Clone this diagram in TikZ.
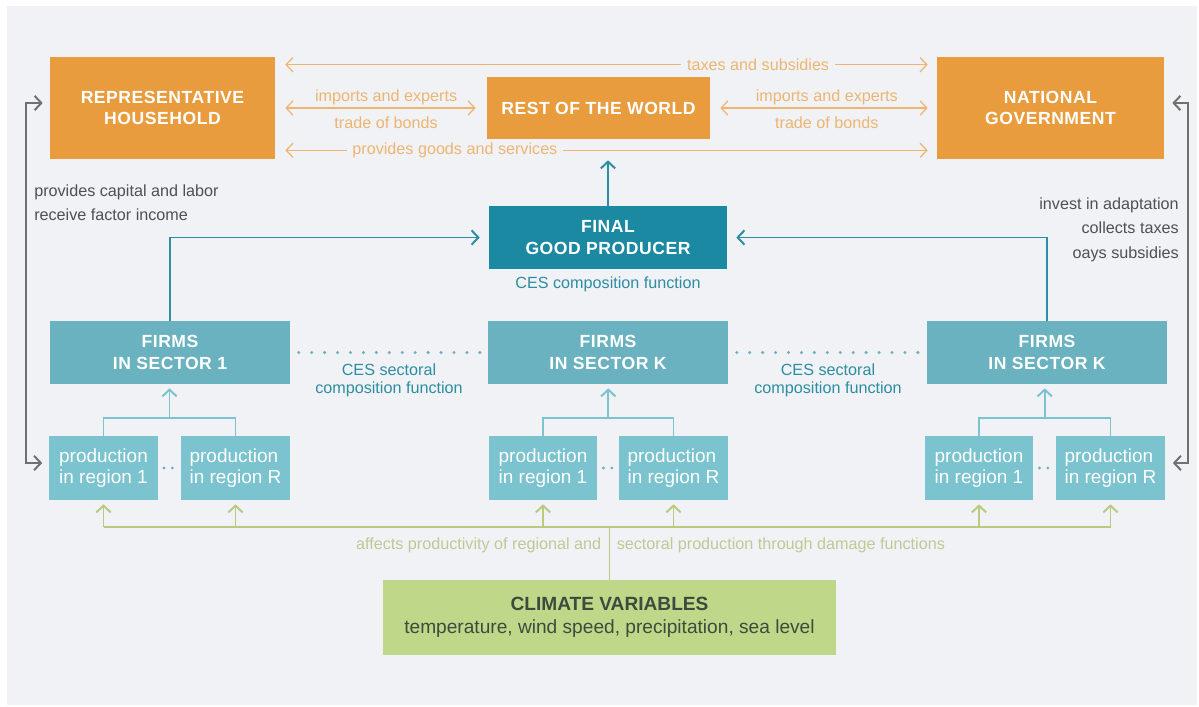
\documentclass[tikz,border=0pt]{standalone}
\usepackage{fontspec}
\setmainfont{Liberation Sans}
\usetikzlibrary{arrows.meta,calc}

\definecolor{panel}{HTML}{F1F2F6}
\definecolor{boxorange}{HTML}{E99C3D}
\definecolor{lineorange}{HTML}{EDB571}
\definecolor{finalteal}{HTML}{1A89A1}
\definecolor{firmteal}{HTML}{6AB2C0}
\definecolor{prodteal}{HTML}{7BC3CF}
\definecolor{textteal}{HTML}{2D8DA2}
\definecolor{busgreen}{HTML}{B7CB80}
\definecolor{textgreen}{HTML}{BCCA96}
\definecolor{climgreen}{HTML}{BED788}
\definecolor{climtext}{HTML}{3F4A3E}
\definecolor{flowgrey}{HTML}{707070}
\definecolor{textgrey}{HTML}{505050}

\newcommand{\titlesize}{\fontsize{12.5}{15.5}\selectfont\addfontfeatures{LetterSpace=3}}
\newcommand{\labelsize}{\fontsize{11.5}{17.5}\selectfont}
\newcommand{\prodsize}{\fontsize{13.5}{15}\selectfont}

\begin{document}
\begin{tikzpicture}[x=0.025cm, y=-0.025cm,
    >={Straight Barb[length=1.7mm,width=3.6mm]},
    orangebox/.style={fill=boxorange, text=white, font=\bfseries\titlesize, align=center, inner sep=0pt},
    finalbox/.style={fill=finalteal, text=white, font=\bfseries\titlesize, align=center, inner sep=0pt,
        minimum width=5.95cm, minimum height=1.575cm},
    firmbox/.style={fill=firmteal, text=white, font=\bfseries\titlesize, align=center, inner sep=0pt,
        minimum width=6cm, minimum height=1.575cm},
    prodbox/.style={fill=prodteal, text=white, font=\prodsize, align=left, inner sep=0pt,
        minimum width=2.7cm, minimum height=1.6cm},
    orlabel/.style={text=lineorange, font=\labelsize, inner sep=2pt},
    onlabel/.style={orlabel, fill=panel, inner xsep=4pt},
    teallabel/.style={text=textteal, font=\labelsize, align=center, inner sep=0pt},
    greenlabel/.style={text=textgreen, font=\labelsize, inner sep=0pt},
    greylabel/.style={text=textgrey, font=\labelsize, inner sep=0pt},
    orarrow/.style={draw=lineorange, line width=0.9pt, <->},
    tealarrow/.style={draw=textteal, line width=1.4pt, ->},
    lightarrow/.style={draw=prodteal, line width=1.4pt, ->},
    lightline/.style={draw=prodteal, line width=1.4pt},
    greenline/.style={draw=busgreen, line width=1.4pt},
    greenarrow/.style={draw=busgreen, line width=1.4pt, ->},
    greyarrow/.style={draw=flowgrey, line width=1.4pt, <->},
    bigdots/.style={draw=firmteal, line width=2.4pt, line cap=round, dash pattern=on 0pt off 9.2pt},
    smalldots/.style={draw=firmteal, line width=2.2pt, line cap=round, dash pattern=on 0pt off 6pt}]

% panel and page
\useasboundingbox (0,0) rectangle (1199,706);
\fill[panel] (7,6) rectangle (1197,705);

% top row
\node[orangebox, minimum width=5.625cm, minimum height=2.55cm] (hh) at (162.5,108) {REPRESENTATIVE\\HOUSEHOLD};
\node[orangebox, minimum width=5.575cm, minimum height=1.55cm] (row) at (598.5,108) {REST OF THE WORLD};
\node[orangebox, minimum width=5.675cm, minimum height=2.55cm] (gov) at (1050.5,108) {NATIONAL\\GOVERNMENT};

\draw[orarrow] ([shift={(10,8)}]hh.north east) -- node[onlabel, pos=0.736] (taxes) {taxes and subsidies} ([shift={(-9,8)}]gov.north west);
\draw[orarrow] ([shift={(10,-9)}]hh.south east) -- node[onlabel, pos=0.264] (goods) {provides goods and services} ([shift={(-9,-9)}]gov.south west);
\draw[orarrow] ([xshift=0.25cm]hh.east) -- node[orlabel, above, xshift=4pt] (imp1) {imports and experts}
    node[orlabel, below=4pt, xshift=4pt] (bond1) {trade of bonds} ([xshift=-0.275cm]row.west);
\draw[orarrow] ([xshift=0.25cm]row.east) -- node[orlabel, above, xshift=2pt] (imp2) {imports and experts}
    node[orlabel, below=4pt, xshift=2pt] (bond2) {trade of bonds} ([xshift=-0.225cm]gov.west);

% final good producer
\node[finalbox] (final) at (608,237.5) {FINAL\\GOOD PRODUCER};
\node[teallabel] (cesfinal) at (608,284) {CES composition function};
\draw[tealarrow] (final.north) -- ([yshift=-0.525cm]final.north |- row.south);

% firms
\node[firmbox] (f1) at (170,352.5) {FIRMS\\IN SECTOR 1};
\node[firmbox] (f2) at (608,352.5) {FIRMS\\IN SECTOR K};
\node[firmbox] (f3) at (1047,352.5) {FIRMS\\IN SECTOR K};
\draw[tealarrow] (f1.north) |- ([xshift=-0.225cm]final.west);
\draw[tealarrow] (f3.north) |- ([xshift=0.225cm]final.east);
\draw[bigdots, shorten <=6pt, shorten >=2pt] (f1.east) -- (f2.west);
\draw[bigdots, shorten <=6pt, shorten >=2pt] (f2.east) -- (f3.west);
\node[teallabel, font=\fontsize{11.5}{13}\selectfont] (ces1) at (389,380) {CES sectoral\\composition function};
\node[teallabel, font=\fontsize{11.5}{13}\selectfont] (ces2) at (828,380) {CES sectoral\\composition function};

% regional production
\node[prodbox] (p11) at (103.5,468) {production\\in region 1};
\node[prodbox] (p1R) at (235.5,468) {production\\in region R};
\node[prodbox] (p21) at (543,468) {production\\in region 1};
\node[prodbox] (p2R) at (673.5,468) {production\\in region R};
\node[prodbox] (p31) at (979,468) {production\\in region 1};
\node[prodbox] (p3R) at (1110.5,468) {production\\in region R};

\foreach \a/\b/\f in {p11/p1R/f1, p21/p2R/f2, p31/p3R/f3} {
    \draw[lightline] (\a.north) -- ++(0,-18) coordinate (\a top) -| (\b.north);
    \coordinate (\a mid) at ($(\a top)!0.5!(\b.north |- \a top)$);
    \draw[lightarrow] (\a mid) -- ([yshift=-0.1cm]\a mid |- \f.south);
    \draw[smalldots, shorten <=4.4pt, shorten >=4.4pt] (\a.east) -- (\b.west);
}

% climate
\node[fill=climgreen, text=climtext, align=center, inner sep=0pt, minimum width=11.325cm, minimum height=1.875cm,
    font=\fontsize{13.6}{16.3}\selectfont] (clim) at (609.5,617.5) {{\bfseries\fontsize{13.6}{16.3}\selectfont CLIMATE VARIABLES}\\temperature, wind speed, precipitation, sea level};
\draw[greenline] (clim.north) -- ++(0,-53) coordinate (bus);
\draw[greenline] (p11.south |- bus) -- (p3R.south |- bus);
\foreach \p in {p11,p1R,p21,p2R,p31,p3R}
    \draw[greenarrow] (\p.south |- bus) -- ([yshift=-0.1cm]\p.south);
\node[greenlabel, anchor=east] (aff1) at ([shift={(-8,19)}]bus) {affects productivity of regional and};
\node[greenlabel, anchor=west] (aff2) at ([shift={(7,19)}]bus) {sectoral production through damage functions};

% household and government flows
\draw[greyarrow] ([shift={(-7,-5)}]hh.west) -- ++(-17,0) |- ([shift={(-7,-5)}]p11.west);
\draw[greyarrow] ([shift={(8,-5)}]gov.east) -- ++(16,0) |- ([shift={(8,-5)}]p3R.east);
\node[greylabel, anchor=north west, align=left] (hhflow) at (34,184) {provides capital and labor\\receive factor income};
\node[greylabel, anchor=north east, align=right] (govflow) at (1179,197) {invest in adaptation\\collects taxes\\oays subsidies};

\end{tikzpicture}
\end{document}
